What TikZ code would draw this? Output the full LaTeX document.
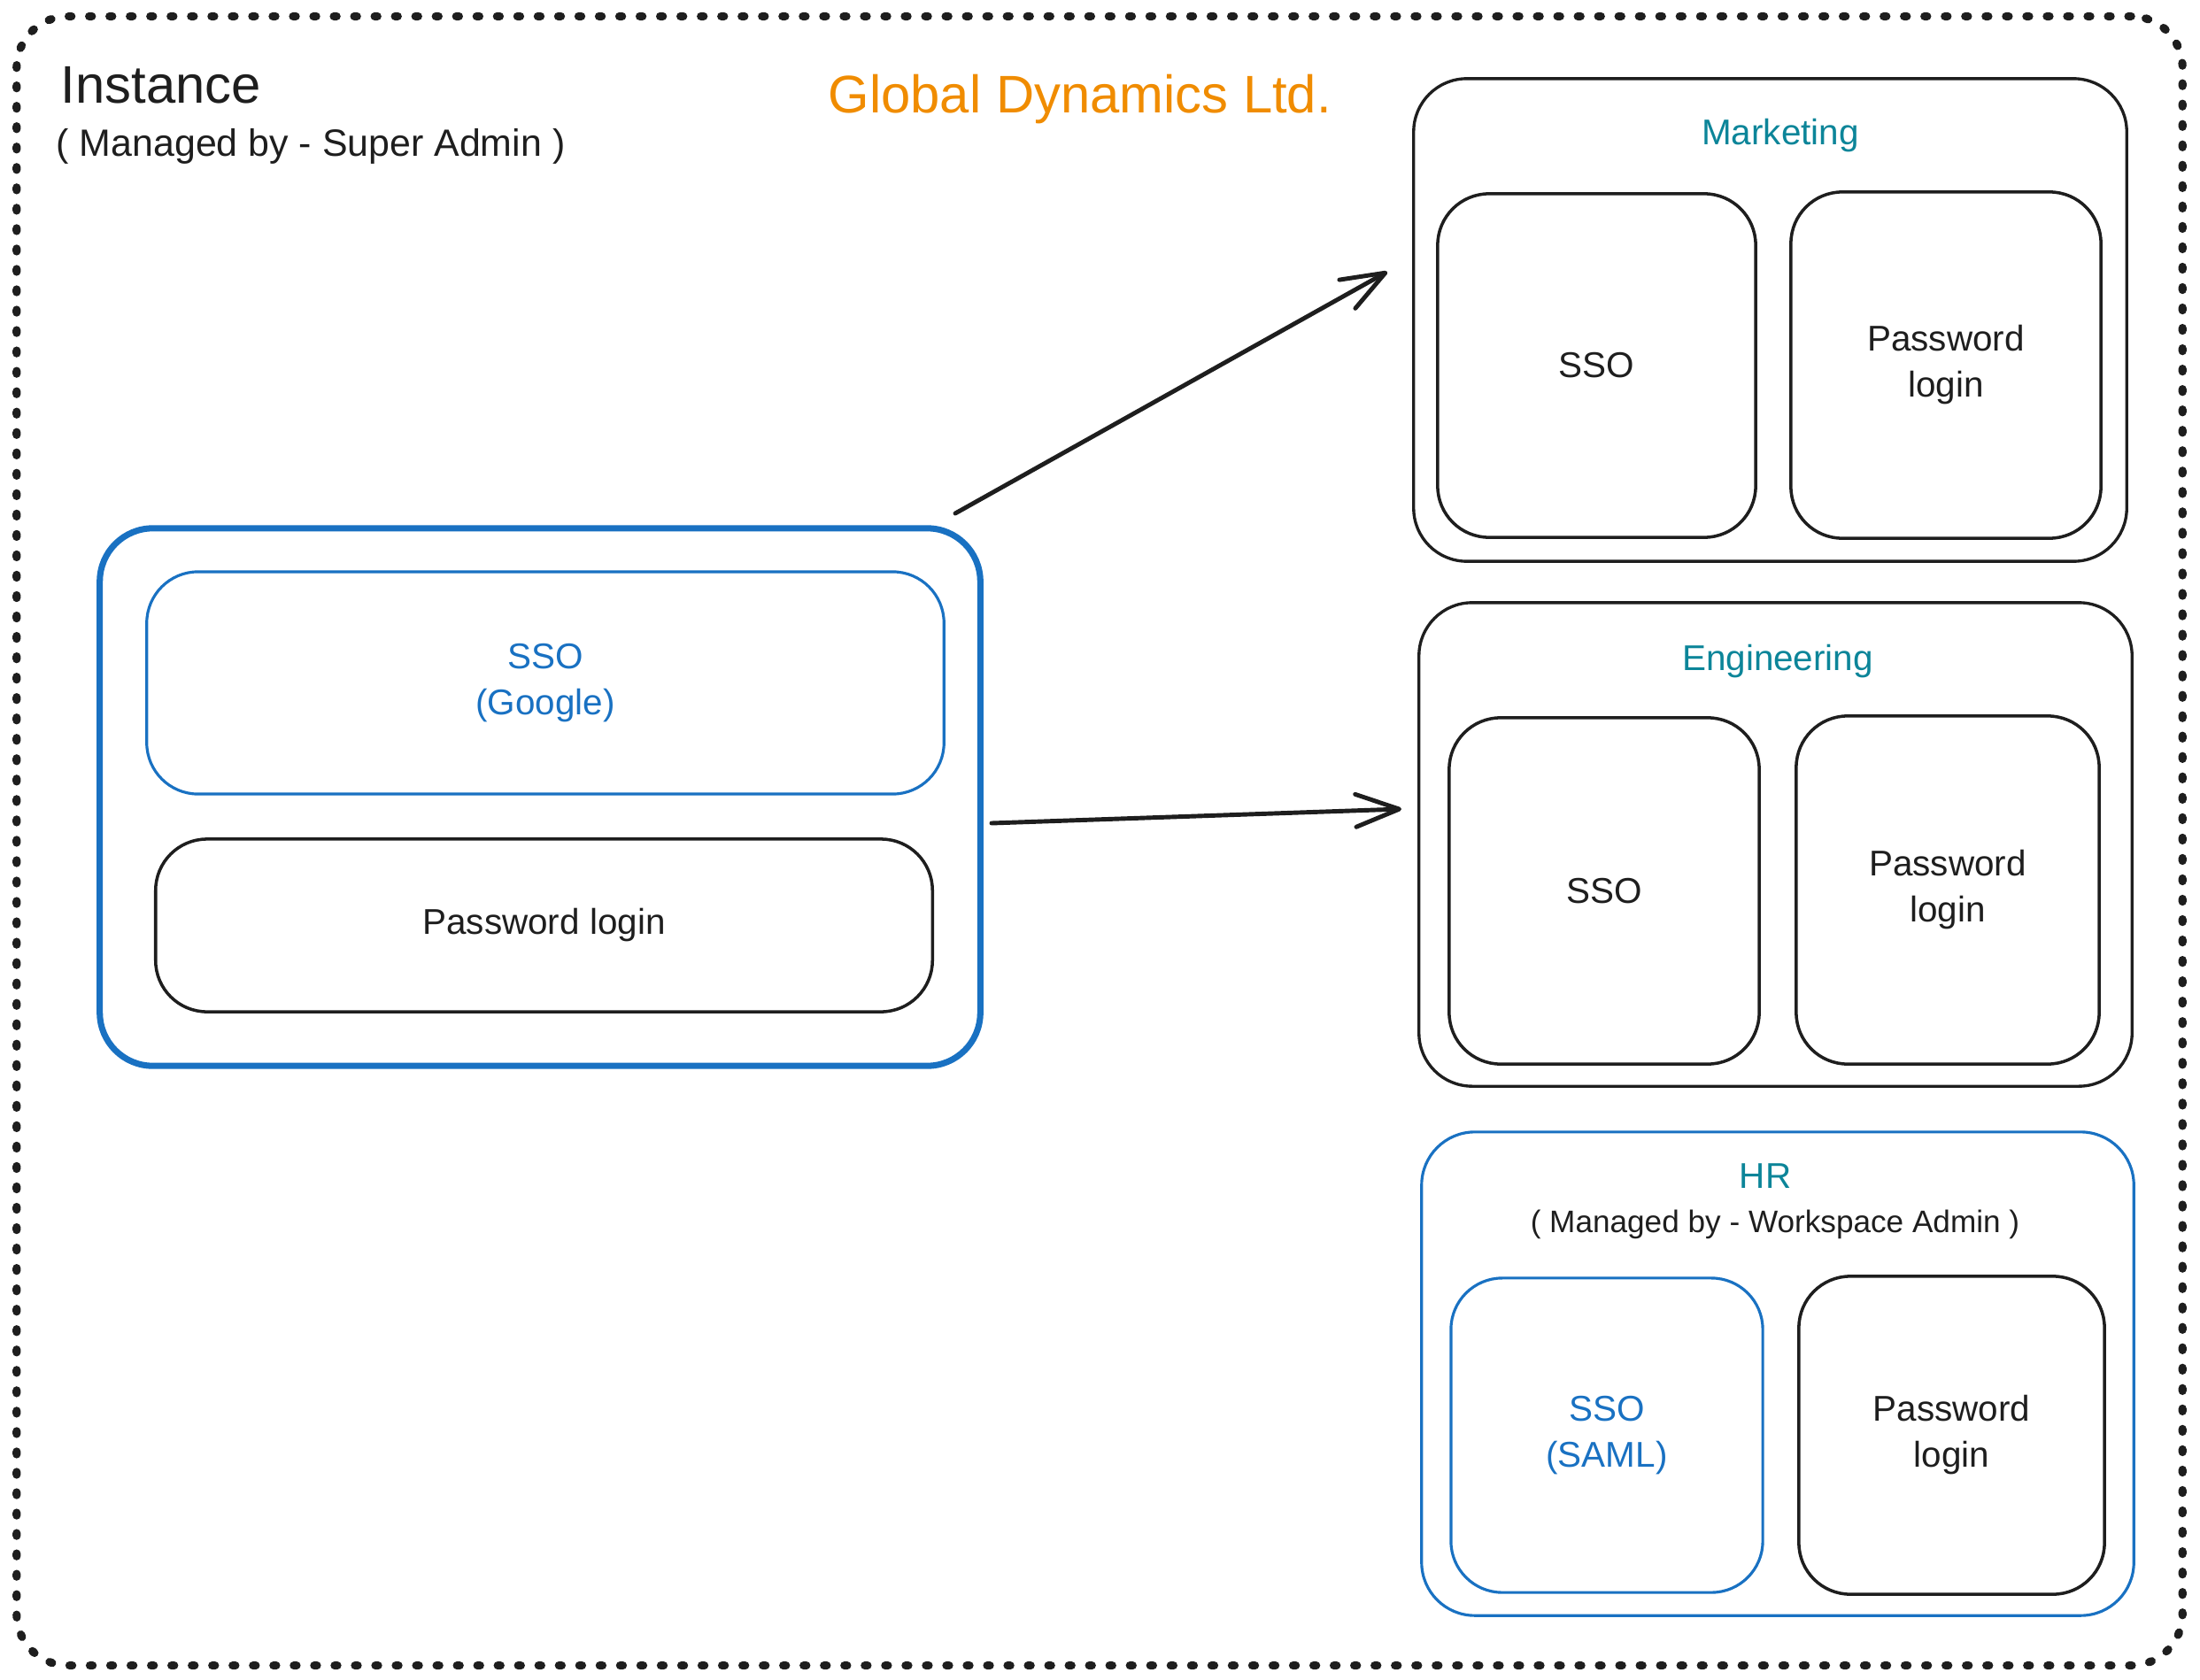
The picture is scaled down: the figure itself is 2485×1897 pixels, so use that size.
\documentclass[tikz,border=0pt]{standalone}
\usepackage{fontspec}
\setmainfont{Liberation Sans}
\usetikzlibrary{arrows.meta}
\definecolor{ink}{HTML}{1E1E1E}
\definecolor{exblue}{HTML}{1971C2}
\definecolor{exteal}{HTML}{0C8599}
\definecolor{exorange}{HTML}{F08C00}
\tikzset{
  dotframe/.style={draw=ink, line width=2.6pt, dash pattern=on 0.9pt off 5.65pt, line cap=round, rounded corners=0.58cm, inner sep=0pt},
  grpbox/.style={draw=ink, line width=0.95pt, rounded corners=0.6cm, inner sep=0pt},
  grpblue/.style={draw=exblue, line width=0.9pt, rounded corners=0.6cm, inner sep=0pt},
  mainbox/.style={draw=exblue, line width=2pt, rounded corners=0.6cm, inner sep=0pt},
  itembox/.style={draw=ink, line width=1pt, rounded corners=0.58cm, inner sep=0pt, text=ink, align=center, font=\fontsize{11.5}{14.8}\selectfont},
  itemblue/.style={draw=exblue, line width=0.9pt, rounded corners=0.58cm, inner sep=0pt, text=exblue, align=center, font=\fontsize{11.5}{14.8}\selectfont},
  grplabel/.style={text=exteal, inner sep=0pt, anchor=base, font=\fontsize{11.5}{14.8}\selectfont},
  note/.style={text=ink, inner sep=0pt, anchor=base, font=\fontsize{10}{12}\selectfont},
  conn/.style={draw=ink, line width=1.4pt, line cap=round, -{Straight Barb[length=14pt,width=10.5pt,round]}},
}
\begin{document}
\begin{tikzpicture}[x=0.01cm,y=-0.01cm]
\useasboundingbox (0,0) rectangle (2485,1897);
% outer instance frame
\node[dotframe, minimum width=24.45cm, minimum height=18.62cm] (frame) at (1242,950) {};
\node[text=ink, inner sep=0pt, anchor=base west, font=\fontsize{17}{20}\selectfont] (inst) at (68,117) {Instance};
\node[text=ink, inner sep=0pt, anchor=base west, font=\fontsize{12.2}{14}\selectfont] (instnote) at (63,177) {( Managed by - Super Admin )};
\node[text=exorange, inner sep=0pt, anchor=base west, font=\fontsize{17}{20}\selectfont] (org) at (935,128) {Global Dynamics Ltd.};

% instance-level auth
\node[mainbox, minimum width=9.94cm, minimum height=6.07cm] (inbox) at (610,900.5) {};
\node[itemblue, minimum width=9.00cm, minimum height=2.51cm] (gsso) at (616,771.5) {SSO\\(Google)};
\node[itembox, minimum width=8.77cm, minimum height=1.95cm] (gpw) at (614.5,1045.5) {Password login};

% Marketing
\node[grpbox, minimum width=8.05cm, minimum height=5.45cm] (mkt) at (1999.5,361.5) {};
\node[grplabel] (mktl) at (2011,164) {Marketing};
\node[itembox, minimum width=3.59cm, minimum height=3.88cm] (msso) at (1803.5,413) {SSO};
\node[itembox, minimum width=3.50cm, minimum height=3.91cm] (mpw) at (2198,412.5) {Password\\login};

% Engineering
\node[grpbox, minimum width=8.05cm, minimum height=5.46cm] (eng) at (2005.5,954) {};
\node[grplabel] (engl) at (2008,757) {Engineering};
\node[itembox, minimum width=3.50cm, minimum height=3.91cm] (esso) at (1812,1006.5) {SSO};
\node[itembox, minimum width=3.42cm, minimum height=3.93cm] (epw) at (2200,1005.5) {Password\\login};

% HR
\node[grpblue, minimum width=8.04cm, minimum height=5.46cm] (hr) at (2008,1552) {};
\node[grplabel] (hrl) at (1994,1342) {HR};
\node[note] (hrnote) at (2005,1392) {( Managed by - Workspace Admin )};
\node[itemblue, minimum width=3.52cm, minimum height=3.55cm] (hsso) at (1815,1621.5) {SSO\\(SAML)};
\node[itembox, minimum width=3.45cm, minimum height=3.59cm] (hpw) at (2204.5,1621.5) {Password\\login};

% connectors
\coordinate (a1s) at (1079,580);
\coordinate (a1e) at (1567,307);
\coordinate (a2s) at (1120,930);
\coordinate (a2e) at (1583,914);
\draw[conn] (a1s) -- (a1e);
\draw[conn] (a2s) -- (a2e);
\end{tikzpicture}
\end{document}
